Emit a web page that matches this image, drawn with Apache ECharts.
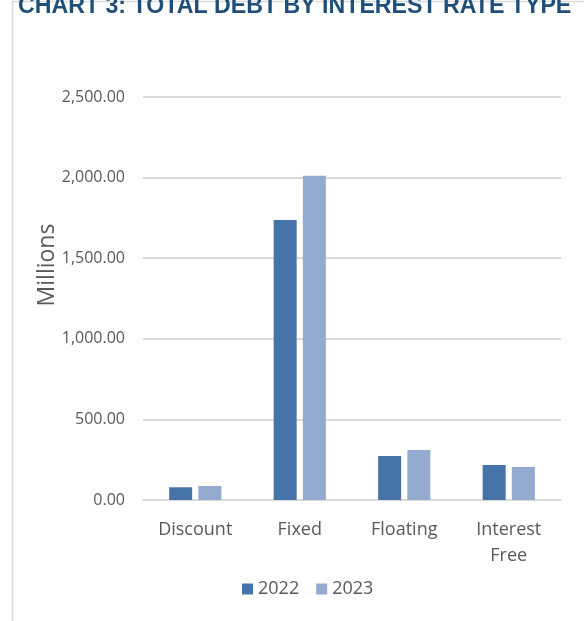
<!DOCTYPE html>
<html>
<head>
<meta charset="utf-8">
<script src="https://cdn.jsdelivr.net/npm/echarts@6/dist/echarts.min.js"></script>
<style>
  html, body { margin: 0; padding: 0; background: #fff; }
  #chart { width: 584px; height: 621px; }
</style>
</head>
<body>
<div id="chart"></div>
<script>
  // data (millions)
  var categories = ['Discount', 'Fixed', 'Floating', 'Interest Free'];
  var debt2022 = [79, 1737, 273, 217];
  var debt2023 = [87, 2012, 310, 205];
  var yTicks = [0, 500, 1000, 1500, 2000, 2500];

  var myChart = echarts.init(document.getElementById('chart'));
  var labelColor = '#595959';
  var font = '"Open Sans", sans-serif';

  var option = {
    backgroundColor: '#fff',
    animation: false,
    graphic: [
      { // frame left and top edges
        type: 'polyline',
        shape: { points: [[12.5, 621], [12.5, 1.5], [584, 1.5]] },
        style: { stroke: '#d9d9d9', lineWidth: 1.5, fill: null }
      },
      {
        type: 'text',
        left: 18,
        top: -6,
        scaleX: 0.965,
        style: {
          text: 'CHART 3: TOTAL DEBT BY INTEREST RATE TYPE',
          font: 'bold 24px "Liberation Sans", Arial, sans-serif',
          fill: '#1f4e79'
        }
      },
      { // axis title, sits a bit above the middle of the plot like the original
        type: 'text',
        x: 47,
        y: 265,
        rotation: Math.PI / 2,
        style: {
          text: 'Millions',
          font: '23px "Open Sans", sans-serif',
          fill: labelColor,
          align: 'center',
          verticalAlign: 'middle'
        }
      }
    ],
    grid: {
      left: 143,
      right: 23,
      top: 97,
      bottom: 121
    },
    legend: {
      data: ['2022', '2023'],
      left: 237,
      top: 575,
      icon: 'rect',
      itemWidth: 11,
      itemHeight: 11,
      itemGap: 17,
      textStyle: { color: labelColor, fontSize: 18, fontFamily: font }
    },
    xAxis: {
      type: 'category',
      data: categories,
      axisTick: { show: false },
      axisLine: { lineStyle: { color: '#d9d9d9', width: 2 } },
      axisLabel: {
        color: labelColor,
        fontSize: 18,
        fontFamily: font,
        margin: 17,
        lineHeight: 26,
        interval: 0,
        formatter: function (v) { return v.replace(' ', '\n'); }
      }
    },
    yAxis: {
      type: 'value',
      min: yTicks[0],
      max: yTicks[yTicks.length - 1],
      interval: yTicks[1] - yTicks[0],
      axisLine: { show: false },
      axisTick: { show: false },
      axisLabel: {
        color: labelColor,
        fontSize: 16,
        fontFamily: font,
        margin: 18,
        formatter: function (v) {
          return v.toLocaleString('en-US', { minimumFractionDigits: 2, maximumFractionDigits: 2 });
        }
      },
      splitLine: { lineStyle: { color: '#d9d9d9', width: 2 } }
    },
    series: [
      {
        name: '2022',
        type: 'bar',
        data: debt2022,
        barWidth: 23,
        barGap: '27%',
        itemStyle: { color: '#4673a8' }
      },
      {
        name: '2023',
        type: 'bar',
        data: debt2023,
        barWidth: 23,
        itemStyle: { color: '#95aad0' }
      }
    ]
  };
  myChart.setOption(option);
</script>
</body>
</html>
